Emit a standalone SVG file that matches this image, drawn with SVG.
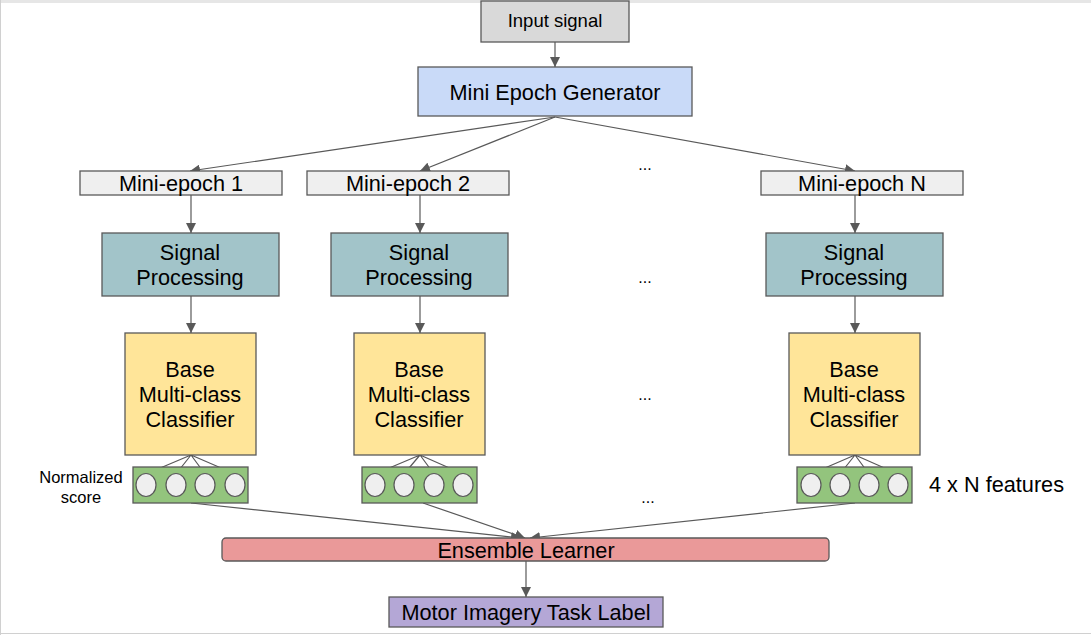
<svg xmlns="http://www.w3.org/2000/svg" width="1091" height="635" viewBox="0 0 1091 635">
<defs>
<marker id="ah" viewBox="0 0 10 10" refX="10" refY="5" markerWidth="10" markerHeight="10" markerUnits="userSpaceOnUse" orient="auto">
<path d="M0,0 L10,5 L0,10 z" fill="#595959"/>
</marker>
<style>
text{font-family:"Liberation Sans",Arial,sans-serif;fill:#000;text-anchor:middle}
.b{stroke:#595959;stroke-width:1.3}
.c{stroke:#595959;stroke-width:1.2;fill:none}
.a{marker-end:url(#ah)}
.t20{font-size:21.7px}
.t17{font-size:18.5px}
.dot{fill:#efefef;stroke:#595959;stroke-width:1.2}
</style>
</defs>
<rect x="0" y="0" width="1091" height="635" fill="#fff"/>
<rect x="0" y="0" width="1091" height="3" fill="#e6e6e6"/>
<line x1="0.5" y1="0" x2="0.5" y2="635" stroke="#d0d0d0"/>
<line x1="0" y1="633.5" x2="1091" y2="633.5" stroke="#d0d0d0"/>

<g id="connectors">
<line class="c a" x1="555" y1="42" x2="555" y2="67"/>
<line class="c a" x1="555" y1="117" x2="190" y2="171"/>
<line class="c a" x1="555" y1="117" x2="420" y2="171"/>
<line class="c a" x1="555" y1="117" x2="855" y2="171"/>
<line class="c a" x1="191" y1="195" x2="191" y2="233"/>
<line class="c a" x1="420" y1="195" x2="420" y2="233"/>
<line class="c a" x1="855" y1="195" x2="855" y2="233"/>
<line class="c a" x1="191" y1="296" x2="191" y2="333"/>
<line class="c a" x1="420" y1="296" x2="420" y2="333"/>
<line class="c a" x1="855" y1="296" x2="855" y2="333"/>
<line class="c a" x1="191" y1="503" x2="521" y2="538"/>
<line class="c a" x1="423" y1="503" x2="525" y2="538"/>
<line class="c a" x1="855" y1="503" x2="530" y2="538"/>
<line class="c a" x1="526" y1="561" x2="526" y2="597"/>
<path class="c" d="M191,455 L146,474 M191,455 L176,474 M191,455 L205,474 M191,455 L235,474"/>
<path class="c" d="M420,455 L375,474 M420,455 L404,474 M420,455 L434,474 M420,455 L463,474"/>
<path class="c" d="M855,455 L811,474 M855,455 L840,474 M855,455 L869,474 M855,455 L898,474"/>
</g>

<g id="input">
<rect class="b" x="481" y="1" width="148" height="41" fill="#d9d9d9"/>
<text class="t17" x="555" y="27">Input signal</text>
</g>
<g id="generator">
<rect class="b" x="418" y="67" width="274" height="49" fill="#c9daf8"/>
<text class="t20" x="555" y="100">Mini Epoch Generator</text>
</g>

<g id="epoch1">
<rect class="b" x="80" y="171" width="202" height="24" fill="#efefef"/>
<text class="t20" x="181" y="191">Mini-epoch 1</text>
</g>
<g id="epoch2">
<rect class="b" x="307" y="171" width="202" height="24" fill="#efefef"/>
<text class="t20" x="408" y="191">Mini-epoch 2</text>
</g>
<g id="epochN">
<rect class="b" x="761" y="171" width="202" height="24" fill="#efefef"/>
<text class="t20" x="862" y="191">Mini-epoch N</text>
</g>

<g id="sp1">
<rect class="b" x="102" y="233" width="177" height="63" fill="#a2c4c9"/>
<text class="t20" x="190" y="260">Signal</text>
<text class="t20" x="190" y="285">Processing</text>
</g>
<g id="sp2">
<rect class="b" x="331" y="233" width="177" height="63" fill="#a2c4c9"/>
<text class="t20" x="419" y="260">Signal</text>
<text class="t20" x="419" y="285">Processing</text>
</g>
<g id="spN">
<rect class="b" x="766" y="233" width="177" height="63" fill="#a2c4c9"/>
<text class="t20" x="854" y="260">Signal</text>
<text class="t20" x="854" y="285">Processing</text>
</g>

<g id="clf1">
<rect class="b" x="125" y="333" width="131" height="122" fill="#ffe599"/>
<text class="t20" x="190" y="377">Base</text>
<text class="t20" x="190" y="402">Multi-class</text>
<text class="t20" x="190" y="427">Classifier</text>
</g>
<g id="clf2">
<rect class="b" x="354" y="333" width="131" height="122" fill="#ffe599"/>
<text class="t20" x="419" y="377">Base</text>
<text class="t20" x="419" y="402">Multi-class</text>
<text class="t20" x="419" y="427">Classifier</text>
</g>
<g id="clfN">
<rect class="b" x="789" y="333" width="131" height="122" fill="#ffe599"/>
<text class="t20" x="854" y="377">Base</text>
<text class="t20" x="854" y="402">Multi-class</text>
<text class="t20" x="854" y="427">Classifier</text>
</g>

<g id="score1">
<rect class="b" x="133" y="467" width="115" height="36" fill="#93c47d" stroke="#333"/>
<ellipse class="dot" cx="146" cy="485" rx="10" ry="11.5"/>
<ellipse class="dot" cx="176" cy="485" rx="10" ry="11.5"/>
<ellipse class="dot" cx="205" cy="485" rx="10" ry="11.5"/>
<ellipse class="dot" cx="235" cy="485" rx="10" ry="11.5"/>
</g>
<g id="score2">
<rect class="b" x="362" y="467" width="115" height="36" fill="#93c47d"/>
<ellipse class="dot" cx="375" cy="485" rx="10" ry="11.5"/>
<ellipse class="dot" cx="404" cy="485" rx="10" ry="11.5"/>
<ellipse class="dot" cx="434" cy="485" rx="10" ry="11.5"/>
<ellipse class="dot" cx="463" cy="485" rx="10" ry="11.5"/>
</g>
<g id="scoreN">
<rect class="b" x="797" y="467" width="115" height="36" fill="#93c47d"/>
<ellipse class="dot" cx="811" cy="485" rx="10" ry="11.5"/>
<ellipse class="dot" cx="840" cy="485" rx="10" ry="11.5"/>
<ellipse class="dot" cx="869" cy="485" rx="10" ry="11.5"/>
<ellipse class="dot" cx="898" cy="485" rx="10" ry="11.5"/>
</g>

<g id="labels">
<text x="81" y="483" font-size="16.5">Normalized</text>
<text x="81" y="503" font-size="16.5">score</text>
<text x="929" y="492" font-size="21.7" style="text-anchor:start">4 x N features</text>
<text x="645" y="170" font-size="16">...</text>
<text x="645" y="283" font-size="16">...</text>
<text x="645" y="400" font-size="16">...</text>
<text x="648" y="503" font-size="16">...</text>
</g>

<g id="ensemble">
<rect class="b" x="222" y="538" width="607" height="23" rx="4" fill="#ea9999"/>
<text class="t20" x="526" y="558">Ensemble Learner</text>
</g>
<g id="label">
<rect class="b" x="389" y="597" width="274" height="30" fill="#b4a7d6"/>
<text class="t20" x="526" y="620">Motor Imagery Task Label</text>
</g>
</svg>
